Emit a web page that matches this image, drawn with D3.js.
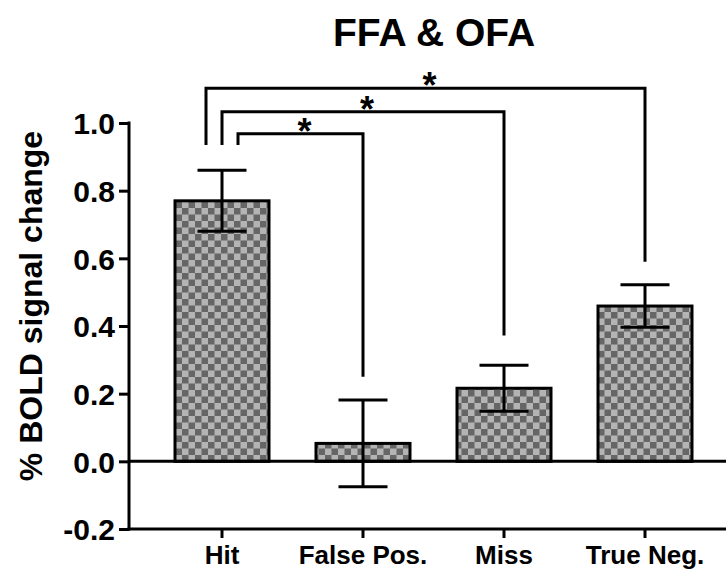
<!DOCTYPE html>
<html>
<head>
<meta charset="utf-8">
<script src="https://cdn.jsdelivr.net/npm/d3@7"></script>
<style>
  html, body { margin: 0; padding: 0; background: #fff; }
  svg { display: block; font-family: "Liberation Sans", Arial, Helvetica, sans-serif; font-weight: bold; }
</style>
</head>
<body>
<svg id="chart" width="726" height="569"></svg>
<script>
// Mean % BOLD signal change per trial type, with error bar half-widths
const categories = ["Hit", "False Pos.", "Miss", "True Neg."];
const means = [0.770, 0.053, 0.216, 0.459];
const errors = [0.090, 0.128, 0.068, 0.063];
const yTicks = [-0.2, 0.0, 0.2, 0.4, 0.6, 0.8, 1.0];

// Significance brackets: compared pair, bracket level, where the right leg stops
const compareFrom = ["Hit", "Hit", "Hit"];
const compareTo = ["True Neg.", "Miss", "False Pos."];
const bracketLevel = [1.103, 1.033, 0.968];
const bracketLeftEnd = [0.935, 0.935, 0.935];
const bracketRightEnd = [0.590, 0.372, 0.250];
const bracketLeftShift = [-16, 0, 16];
const bracketLabel = ["*", "*", "*"];

const svg = d3.select("#chart");
const W = 726;
const axisX = 129;

const y = d3.scaleLinear().domain([-0.2, 1.0]).range([529, 123]);

const x = d3.scaleBand().domain(categories)
  .range([151.5, 715.5]).paddingInner(1 / 3).paddingOuter(1 / 6);

// checkerboard fill
const cell = 6.5;
const defs = svg.append("defs");
const pat = defs.append("pattern").attr("id", "checker")
  .attr("patternUnits", "userSpaceOnUse")
  .attr("width", cell * 2).attr("height", cell * 2)
  .attr("x", 0).attr("y", 0);
pat.append("rect").attr("width", cell * 2).attr("height", cell * 2).attr("fill", "#b4b4b4");
pat.append("rect").attr("width", cell).attr("height", cell).attr("fill", "#666666");
pat.append("rect").attr("x", cell).attr("y", cell).attr("width", cell).attr("height", cell).attr("fill", "#666666");

// title
svg.append("text").attr("x", 434).attr("y", 46)
  .attr("text-anchor", "middle").attr("font-size", 39).attr("fill", "#000")
  .text("FFA & OFA");

// y-axis title
svg.append("text")
  .attr("transform", "translate(42," + 306 + ") rotate(-90)")
  .attr("text-anchor", "middle").attr("font-size", 32).attr("fill", "#000")
  .text("% BOLD signal change");

// bars
const data = categories.map((c, i) => ({ c, m: means[i], e: errors[i] }));
svg.append("g").selectAll("rect").data(data).join("rect")
  .attr("x", d => x(d.c))
  .attr("width", x.bandwidth())
  .attr("y", d => y(Math.max(0, d.m)))
  .attr("height", d => Math.abs(y(d.m) - y(0)))
  .attr("fill", "url(#checker)")
  .attr("stroke", "#000").attr("stroke-width", 3);

// zero line
svg.append("line")
  .attr("x1", axisX).attr("x2", W)
  .attr("y1", y(0)).attr("y2", y(0))
  .attr("stroke", "#000").attr("stroke-width", 3);

// error bars
const capHalf = 24.5;
const eb = svg.append("g").attr("stroke", "#000").attr("stroke-width", 3).attr("fill", "none");
data.forEach(d => {
  const cx = x(d.c) + x.bandwidth() / 2;
  eb.append("line").attr("x1", cx).attr("x2", cx).attr("y1", y(d.m + d.e)).attr("y2", y(d.m - d.e));
  eb.append("line").attr("x1", cx - capHalf).attr("x2", cx + capHalf).attr("y1", y(d.m + d.e)).attr("y2", y(d.m + d.e));
  eb.append("line").attr("x1", cx - capHalf).attr("x2", cx + capHalf).attr("y1", y(d.m - d.e)).attr("y2", y(d.m - d.e));
});

// y axis (plain hyphen for negatives)
const fmt = d3.format(".1f");
const yAxis = d3.axisLeft(y).tickValues(yTicks).tickFormat(d => fmt(d).replace("\u2212", "-"))
  .tickSize(10).tickPadding(4);
const gy = svg.append("g").attr("transform", "translate(" + axisX + ",0)").call(yAxis);
gy.select(".domain").remove();
gy.append("line").attr("x1", 0).attr("x2", 0).attr("y1", y(1.0) - 1.5).attr("y2", y(-0.2) + 1.5)
  .attr("stroke", "#000").attr("stroke-width", 3);
gy.selectAll(".tick line").attr("stroke", "#000").attr("stroke-width", 3);
gy.selectAll(".tick text").attr("font-size", 30).attr("font-family", "Liberation Sans, Arial, sans-serif")
  .attr("font-weight", "bold").attr("fill", "#000").attr("dy", "0.36em");

// x axis
const xAxis = d3.axisBottom(x).tickSize(9).tickPadding(8);
const gx = svg.append("g").attr("transform", "translate(0," + y(-0.2) + ")").call(xAxis);
gx.select(".domain").remove();
gx.append("line").attr("x1", axisX - 1.5).attr("x2", W).attr("y1", 0).attr("y2", 0)
  .attr("stroke", "#000").attr("stroke-width", 3);
gx.selectAll(".tick line").attr("stroke", "#000").attr("stroke-width", 3);
gx.selectAll(".tick text").attr("font-size", 26).attr("font-family", "Liberation Sans, Arial, sans-serif")
  .attr("font-weight", "bold").attr("fill", "#000");

// significance brackets
const center = c => x(c) + x.bandwidth() / 2;
const br = svg.append("g");
compareFrom.forEach((f, i) => {
  const xl = center(f) + bracketLeftShift[i];
  const xr = center(compareTo[i]);
  const yl = y(bracketLevel[i]);
  br.append("path")
    .attr("d", d3.line()([[xl, y(bracketLeftEnd[i])], [xl, yl], [xr, yl], [xr, y(bracketRightEnd[i])]]))
    .attr("fill", "none").attr("stroke", "#000").attr("stroke-width", 3);
  br.append("text").attr("x", (xl + xr) / 2 + 4).attr("y", yl + 10)
    .attr("text-anchor", "middle").attr("font-size", 36).attr("fill", "#000")
    .text(bracketLabel[i]);
});
</script>
</body>
</html>
